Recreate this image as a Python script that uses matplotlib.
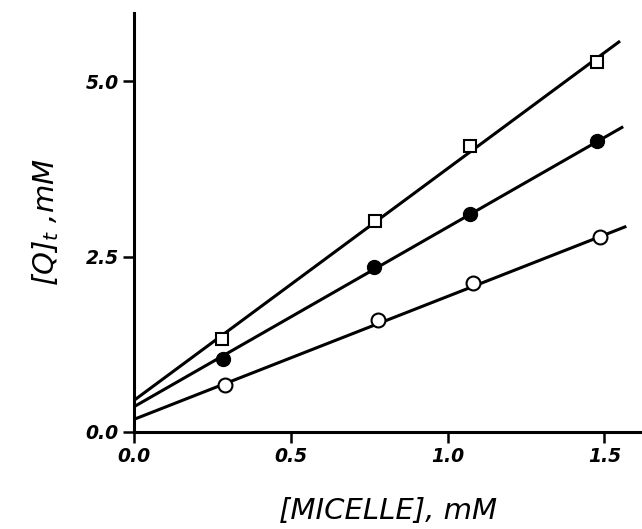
import numpy as np
import matplotlib
matplotlib.use("Agg")
import matplotlib.pyplot as plt

# data: [MICELLE] (mM) vs [Q]t (mM)
micelle_sq = [0.28, 0.77, 1.07, 1.475]
q_sq = [1.32, 3.00, 4.08, 5.27]

micelle_fill = [0.283, 0.764, 1.073, 1.478]
q_fill = [1.04, 2.35, 3.10, 4.15]

micelle_open = [0.29, 0.777, 1.08, 1.487]
q_open = [0.67, 1.60, 2.12, 2.78]

# fitted straight lines, end points
line_sq_x = [0.0, 1.55]
line_sq_y = [0.45, 5.57]
line_fill_x = [0.0, 1.56]
line_fill_y = [0.36, 4.35]
line_open_x = [0.0, 1.57]
line_open_y = [0.18, 2.93]

xticks = [0.0, 0.5, 1.0, 1.5]
yticks = [0.0, 2.5, 5.0]

fig = plt.figure(figsize=(6.42, 5.29), dpi=100)
ax = fig.add_axes([0.2087, 0.1834, 0.7913, 0.792])

lw = 2.2
ax.plot(line_sq_x, line_sq_y, color='black', lw=lw, solid_capstyle='butt')
ax.plot(line_fill_x, line_fill_y, color='black', lw=lw, solid_capstyle='butt')
ax.plot(line_open_x, line_open_y, color='black', lw=lw, solid_capstyle='butt')

ax.plot(micelle_sq, q_sq, 's', ms=8.5, mfc='white', mec='black', mew=1.5)
ax.plot(micelle_fill, q_fill, 'o', ms=10, mfc='black', mec='black')
ax.plot(micelle_open, q_open, 'o', ms=10, mfc='white', mec='black', mew=1.5)

ax.set_xlim(0, 1.62)
ax.set_ylim(0, 5.97)
ax.spines['top'].set_visible(False)
ax.spines['right'].set_visible(False)
ax.spines['left'].set_linewidth(2.2)
ax.spines['bottom'].set_linewidth(2.2)

ax.set_xticks(xticks)
ax.set_xticklabels(['%.1f' % v for v in xticks])
ax.set_yticks(yticks)
ax.set_yticklabels(['%.1f' % v for v in yticks])
ax.tick_params(direction='out', length=8, width=1.8, labelsize=13.5, pad=3)
for lab in ax.get_xticklabels() + ax.get_yticklabels():
    lab.set_fontstyle('italic')
    lab.set_fontweight('bold')

ax.set_xlabel('[MICELLE], mM', fontsize=21, fontstyle='italic', labelpad=22)
ax.set_ylabel('[Q]$_t$ ,mM', fontsize=21, fontstyle='italic', labelpad=18)

fig.savefig('out.png', dpi=100)
